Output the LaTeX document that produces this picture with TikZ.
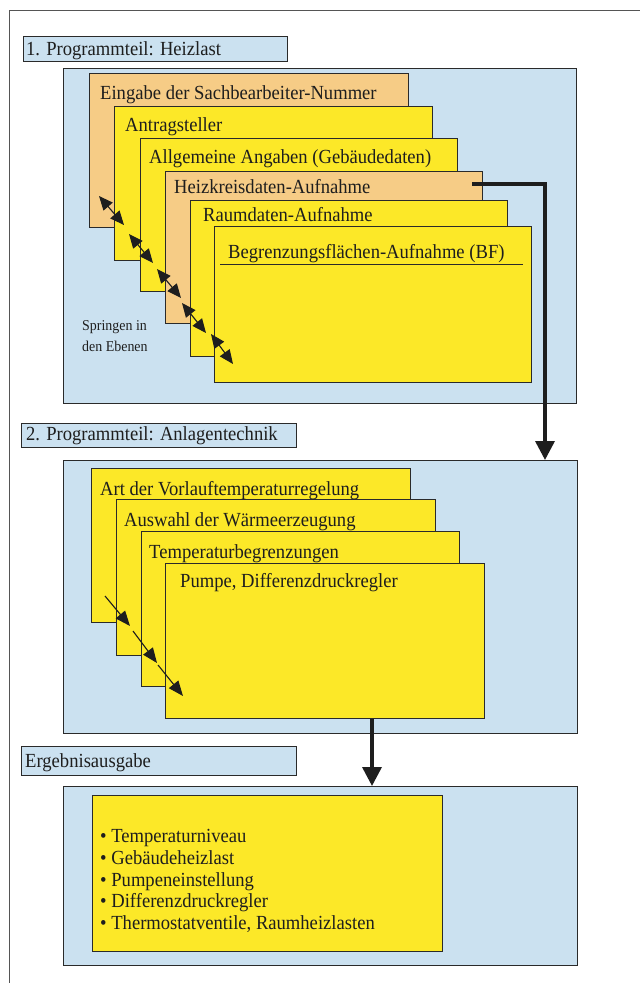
\documentclass[tikz,border=0pt]{standalone}
\usepackage{fontspec}
\setmainfont{Liberation Serif}[FakeStretch=0.93]
\usetikzlibrary{arrows.meta}
\definecolor{bluebg}{HTML}{CBE1F0}
\definecolor{orangebg}{HTML}{F6CC86}
\definecolor{yellowbg}{HTML}{FCE828}
\definecolor{edge}{HTML}{2A2A2A}
\definecolor{txt}{HTML}{1E1E1E}
\tikzset{
  panel/.style={draw=edge, line width=0.9pt, fill=bluebg, anchor=north west, inner sep=0pt},
  headbox/.style={draw=edge, line width=0.9pt, fill=bluebg, anchor=north west, inner sep=0pt},
  ocard/.style={draw=edge, line width=0.9pt, fill=orangebg, anchor=north west, inner sep=0pt},
  ycard/.style={draw=edge, line width=0.9pt, fill=yellowbg, anchor=north west, inner sep=0pt},
  lbl/.style={anchor=base west, inner sep=0pt, text=txt, font=\fontsize{20}{22}\selectfont},
  smalllbl/.style={anchor=base west, inner sep=0pt, text=txt, font=\fontsize{15}{17}\selectfont},
  bigarrow/.style={draw=txt, line width=3.5pt, -{Triangle[length=19pt,width=19pt]}},
  jump/.style={draw=txt, line width=1.1pt, {Triangle[length=14pt,width=12pt]}-{Triangle[length=14pt,width=12pt]}},
  step1/.style={draw=txt, line width=1.1pt, -{Triangle[length=15pt,width=12pt]}},
}
\begin{document}
\begin{tikzpicture}[x=1pt,y=-1pt]
\useasboundingbox (0,0) rectangle (640,983);
% outer frame
\draw[draw=edge!80, line width=0.9pt] (9.5,983) -- (9.5,10) -- (640,10);

% ---------- Section 1 ----------
\node[headbox, minimum width=264pt, minimum height=25pt] (h1) at (23,36) {};
\node[lbl] (h1t) at (26,55) {1. Programmteil: Heizlast};
\node[panel, minimum width=513pt, minimum height=335pt] (s1) at (63,68) {};

\node[ocard, minimum width=319pt, minimum height=154pt] (c1) at (89,73) {};
\node[ycard, minimum width=318pt, minimum height=154pt] (c2) at (114,106) {};
\node[ycard, minimum width=317pt, minimum height=153pt] (c3) at (140,138) {};
\node[ocard, minimum width=317pt, minimum height=152pt] (c4) at (165,171) {};
\node[ycard, minimum width=317pt, minimum height=156pt] (c5) at (190,200) {};
\node[ycard, minimum width=317pt, minimum height=156pt] (c6) at (214,226) {};

\node[lbl] (c1t) at (100,99) {Eingabe der Sachbearbeiter-Nummer};
\node[lbl] (c2t) at (125,131) {Antragsteller};
\node[lbl] (c3t) at (149,163) {Allgemeine Angaben (Gebäudedaten)};
\node[lbl] (c4t) at (174,193) {Heizkreisdaten-Aufnahme};
\node[lbl] (c5t) at (203,221) {Raumdaten-Aufnahme};
\node[lbl] (c6t) at (228,258) {Begrenzungsflächen-Aufnahme (BF)};
\draw[draw=edge, line width=0.9pt] (220,264) -- (523,264);

\node[smalllbl] (sp1) at (82,330) {Springen in};
\node[smalllbl] (sp2) at (82,351) {den Ebenen};

\coordinate (j1a) at (99,196);  \coordinate (j1b) at (124,225);
\coordinate (j2a) at (129,234); \coordinate (j2b) at (153,263);
\coordinate (j3a) at (157,269); \coordinate (j3b) at (181,298);
\coordinate (j4a) at (182,303); \coordinate (j4b) at (206,333);
\coordinate (j5a) at (211,334); \coordinate (j5b) at (233,364);
\draw[jump] (j1a) -- (j1b);
\draw[jump] (j2a) -- (j2b);
\draw[jump] (j3a) -- (j3b);
\draw[jump] (j4a) -- (j4b);
\draw[jump] (j5a) -- (j5b);

% ---------- Section 2 ----------
\node[headbox, minimum width=275pt, minimum height=24pt] (h2) at (21,423) {};
\node[lbl] (h2t) at (26,440) {2. Programmteil: Anlagentechnik};
\node[panel, minimum width=514pt, minimum height=273pt] (s2) at (63,460) {};

\node[ycard, minimum width=319pt, minimum height=154pt] (d1) at (91,468) {};
\node[ycard, minimum width=319pt, minimum height=156pt] (d2) at (116,499) {};
\node[ycard, minimum width=318pt, minimum height=155pt] (d3) at (141,531) {};
\node[ycard, minimum width=319pt, minimum height=155pt] (d4) at (165,563) {};

\node[lbl] (d1t) at (100,495) {Art der Vorlauftemperaturregelung};
\node[lbl] (d2t) at (124,526) {Auswahl der Wärmeerzeugung};
\node[lbl] (d3t) at (149,558) {Temperaturbegrenzungen};
\node[lbl] (d4t) at (180,587) {Pumpe, Differenzdruckregler};

\coordinate (k1a) at (105,596); \coordinate (k1b) at (130,626);
\coordinate (k2a) at (133,631); \coordinate (k2b) at (157,663);
\coordinate (k3a) at (158,665); \coordinate (k3b) at (183,696);
\draw[step1] (k1a) -- (k1b);
\draw[step1] (k2a) -- (k2b);
\draw[step1] (k3a) -- (k3b);

% ---------- Section 3 ----------
\node[headbox, minimum width=275pt, minimum height=29pt] (h3) at (21,746) {};
\node[lbl] (h3t) at (25,767) {Ergebnisausgabe};
\node[panel, minimum width=514pt, minimum height=179pt] (s3) at (63,786) {};
\node[ycard, minimum width=350pt, minimum height=156pt] (r) at (92,795) {};
\node[lbl] (r1) at (100,842) {• Temperaturniveau};
\node[lbl] (r2) at (100,864) {• Gebäudeheizlast};
\node[lbl] (r3) at (100,886) {• Pumpeneinstellung};
\node[lbl] (r4) at (100,907) {• Differenzdruckregler};
\node[lbl] (r5) at (100,929) {• Thermostatventile, Raumheizlasten};

% ---------- flow arrows ----------
\coordinate (a1s) at (472,184);
\coordinate (a1x) at (545,0);
\coordinate (a2x) at (372,0);
\draw[bigarrow] (a1s) -| (s2.north -| a1x);
\draw[bigarrow] (d4.south -| a2x) -- (s3.north -| a2x);
\end{tikzpicture}
\end{document}
